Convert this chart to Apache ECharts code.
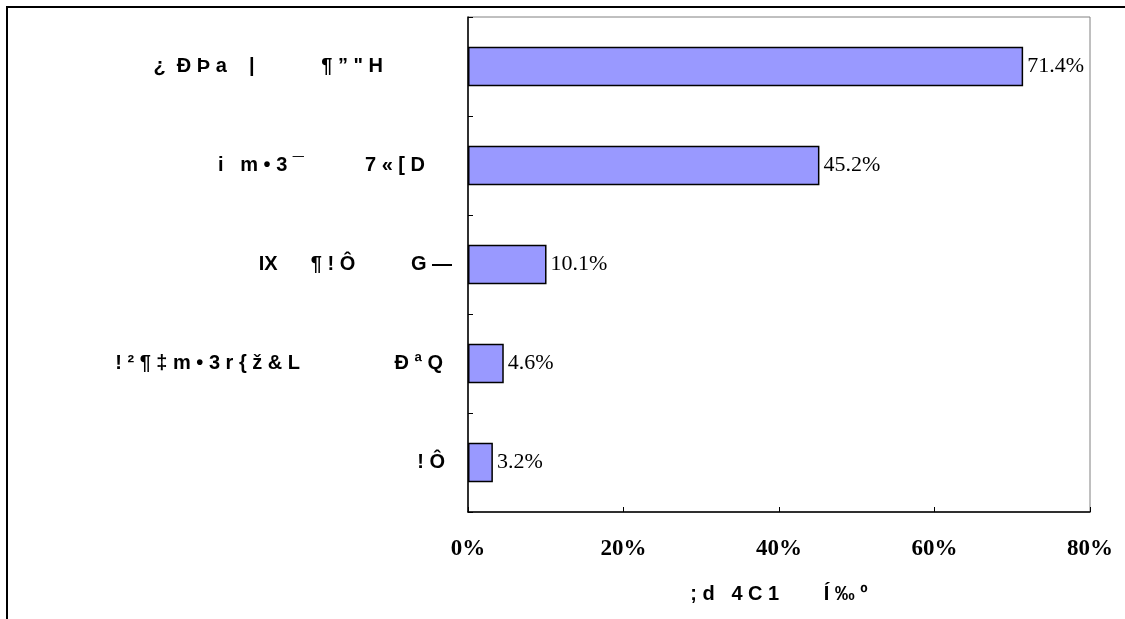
<!DOCTYPE html>
<html>
<head>
<meta charset="utf-8">
<script src="https://cdn.jsdelivr.net/npm/echarts@6/dist/echarts.min.js"></script>
<style>
html,body{margin:0;padding:0;background:#fff;}
#chart{width:1125px;height:619px;}
</style>
</head>
<body>
<div id="chart"></div>
<script>
var categories = [
  "¿  Ð Þ a    |            ¶ ” \" H",
  "i   m • 3 ¯           7 « [ D",
  "IX      ¶ ! Ô          G —",
  "! ² ¶ ‡ m • 3 r { ž & L                 Ð ª Q",
  "! Ô"
];
var values = [71.4, 45.2, 10.1, 4.6, 3.2];
var xTicks = [0, 20, 40, 60, 80];
var xAxisTitle = "; d   4 C 1        Í ‰ º";

var labelPad = [77, 35, 8, 17, 15];

var chart = echarts.init(document.getElementById('chart'), null, {renderer: 'canvas'});
var option = {
  backgroundColor: '#fff',
  animation: false,
  graphic: [{
    type: 'polyline',
    shape: {points: [[1125, 7], [7, 7], [7, 619]]},
    style: {stroke: '#000', lineWidth: 2, fill: null},
    silent: true
  }],
  grid: {
    left: 468, right: 35, top: 17, bottom: 107,
    show: true, borderColor: '#808080', borderWidth: 1, backgroundColor: 'transparent'
  },
  xAxis: {
    type: 'value',
    min: xTicks[0], max: xTicks[xTicks.length - 1], interval: xTicks[1] - xTicks[0],
    axisLine: {show: true, lineStyle: {color: '#000', width: 1.5}},
    axisTick: {show: true, inside: true, length: 5, lineStyle: {color: '#000'}},
    splitLine: {show: false},
    axisLabel: {
      formatter: '{value}%', margin: 26, color: '#000',
      fontFamily: 'Liberation Serif', fontWeight: 'bold', fontSize: 23
    },
    name: xAxisTitle, nameLocation: 'middle', nameGap: 72,
    nameTextStyle: {fontFamily: 'Liberation Sans', fontWeight: 'bold', fontSize: 20, color: '#000'}
  },
  yAxis: {
    type: 'category', data: categories, inverse: true,
    axisLine: {show: true, lineStyle: {color: '#000', width: 1.5}},
    axisTick: {show: true, inside: true, length: 5, lineStyle: {color: '#000'}},
    axisLabel: {
      margin: 8, color: '#000',
      formatter: function (v, i) { return '{p' + i + '|' + v + '}'; },
      rich: (function () {
        var r = {};
        for (var i = 0; i < labelPad.length; i++) {
          r['p' + i] = {padding: [0, labelPad[i], 0, 0], fontFamily: 'Liberation Sans', fontWeight: 'bold', fontSize: 20, color: '#000'};
        }
        return r;
      })()
    }
  },
  series: [{
    type: 'bar', data: values, barWidth: '40%',
    itemStyle: {color: '#9999FF', borderColor: '#000', borderWidth: 1.5},
    label: {
      show: true, position: 'right', distance: 4, color: '#000',
      fontFamily: 'Liberation Serif', fontSize: 22,
      formatter: function (p) { return p.value.toFixed(1) + '%'; }
    }
  }]
};
chart.setOption(option);
</script>
</body>
</html>
